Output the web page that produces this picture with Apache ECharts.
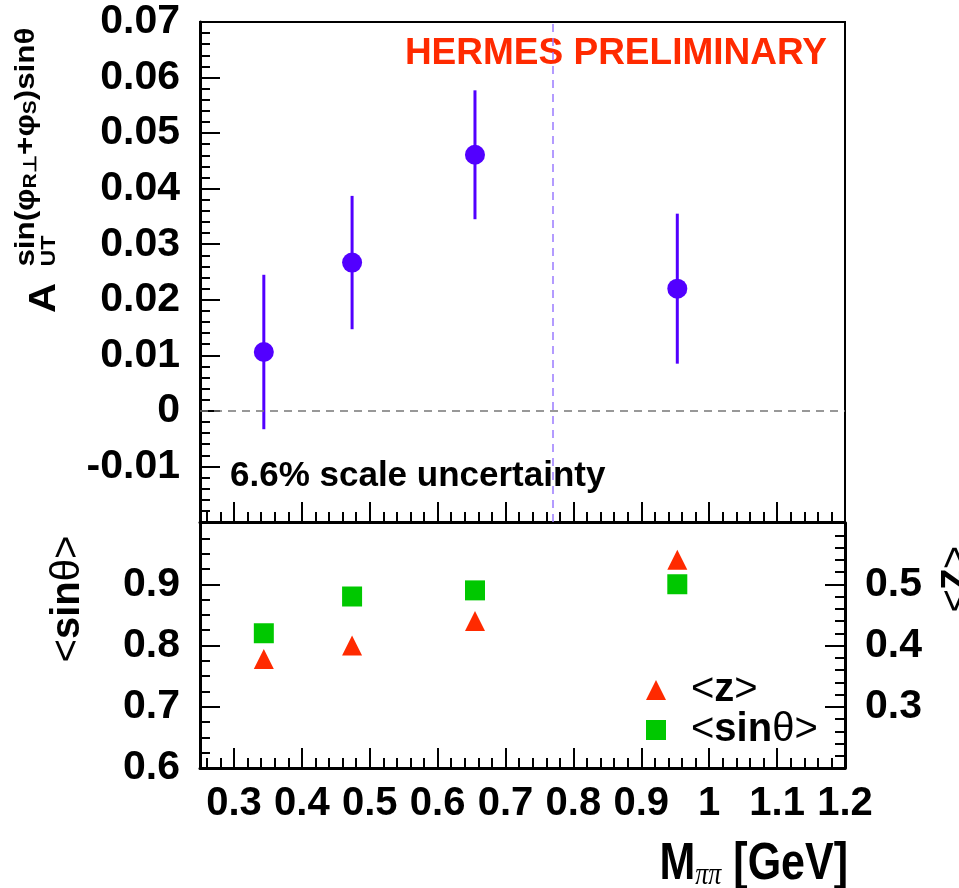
<!DOCTYPE html>
<html>
<head>
<meta charset="utf-8">
<script src="https://cdn.jsdelivr.net/npm/echarts@6/dist/echarts.min.js"></script>
<style>
  html, body { margin: 0; padding: 0; background: #fff; }
  #main { width: 959px; height: 888px; }
</style>
</head>
<body>
<div id="main"></div>
<script>
// data
var massBins = [0.344, 0.474, 0.655, 0.953];
var asymVal = [0.0106, 0.0267, 0.0461, 0.0220];
var asymErr = [0.0139, 0.0120, 0.0116, 0.0135];
var sinTheta = [0.82, 0.88, 0.89, 0.90];
var zMean = [0.378, 0.40, 0.44, 0.54];
var xTickLabels = [0.3, 0.4, 0.5, 0.6, 0.7, 0.8, 0.9, 1.0, 1.1, 1.2];
var rhoMass = 0.77;

var FONT = 'Liberation Sans, Arial, Helvetica, sans-serif';
var purple = '#5200ff';
var red = '#ff2a00';
var green = '#00c800';

// minor ticks on x, 5 divisions per 0.1
var xMinor = [];
for (var m = 0.2; m < 1.2; m += 0.1) {
  for (var k = 1; k < 5; k++) {
    var v = +(m + k * 0.02).toFixed(2);
    if (v > 0.25 && v < 1.2) xMinor.push(v);
  }
}

var chart = echarts.init(document.getElementById('main'));

function xAx(grid, labels) {
  return [{
    type: 'value', gridIndex: grid, min: 0.25, max: 1.2, position: 'bottom',
    axisLine: { show: true, onZero: false, lineStyle: { color: '#000', width: 3 } },
    splitLine: { show: false },
    axisTick: { show: true, inside: true, length: 20, customValues: xTickLabels, lineStyle: { color: '#000', width: 2 } },
    axisLabel: {
      show: labels, customValues: xTickLabels, margin: 16,
      fontFamily: FONT, fontWeight: 'bold', fontSize: 40, color: '#000',
      formatter: function (v) { return v === 1 ? '1' : v.toFixed(1); }
    }
  }, {
    type: 'value', gridIndex: grid, min: 0.25, max: 1.2, position: 'bottom',
    axisLine: { show: false, onZero: false },
    splitLine: { show: false },
    axisLabel: { show: false, customValues: xMinor },
    axisTick: { show: true, inside: true, length: 10, customValues: xMinor, lineStyle: { color: '#000', width: 2 } }
  }];
}

var labelStyle = { fontFamily: FONT, fontWeight: 'bold', fontSize: 41, color: '#000', margin: 20 };
var axLine = { show: true, onZero: false, lineStyle: { color: '#000', width: 3 } };

var option = {
  backgroundColor: '#fff',
  animation: false,
  grid: [
    { left: 200, top: 22, width: 645, height: 500, show: true, borderColor: '#000', borderWidth: 2, backgroundColor: 'transparent' },
    { left: 200, top: 523, width: 645, height: 245, show: true, borderColor: '#000', borderWidth: 2, backgroundColor: 'transparent' }
  ],
  xAxis: xAx(0, false).concat(xAx(1, true)),
  yAxis: [{
    type: 'value', gridIndex: 0, min: -0.02, max: 0.07, interval: 0.01,
    axisLine: axLine, splitLine: { show: false },
    axisTick: { inside: true, length: 20, lineStyle: { color: '#000', width: 2 } },
    minorTick: { show: true, splitNumber: 5, length: 10, lineStyle: { color: '#000', width: 2 } },
    axisLabel: Object.assign({}, labelStyle, {
      showMinLabel: false,
      formatter: function (v) { return Math.abs(v) < 1e-9 ? '0' : v.toFixed(2); }
    })
  }, {
    type: 'value', gridIndex: 1, min: 0.6, max: 1.0, interval: 0.1,
    axisLine: axLine, splitLine: { show: false },
    axisTick: { inside: true, length: 20, lineStyle: { color: '#000', width: 2 } },
    minorTick: { show: true, splitNumber: 4, length: 10, lineStyle: { color: '#000', width: 2 } },
    axisLabel: Object.assign({}, labelStyle, {
      showMaxLabel: false,
      formatter: function (v) { return v.toFixed(1); }
    })
  }, {
    type: 'value', gridIndex: 1, min: 0.2, max: 0.6, interval: 0.1, position: 'right',
    axisLine: axLine, splitLine: { show: false },
    axisTick: { inside: true, length: 20, lineStyle: { color: '#000', width: 2 } },
    minorTick: { show: true, splitNumber: 5, length: 10, lineStyle: { color: '#000', width: 2 } },
    axisLabel: Object.assign({}, labelStyle, {
      showMinLabel: false, showMaxLabel: false,
      formatter: function (v) { return v.toFixed(1); }
    })
  }],
  legend: {
    orient: 'vertical', left: 641, top: 665, itemGap: 0,
    itemWidth: 20, itemHeight: 20,
    data: ['<z>', '<sinθ>'],
    formatter: function (name) {
      return name === '<z>' ? '{r|<}{b|z}{r|>}' : '{r|<}{b|sin}{r|θ>}';
    },
    textStyle: {
      padding: [0, 0, 0, 20], lineHeight: 38,
      rich: {
        r: { fontFamily: FONT, fontSize: 40, color: '#000', lineHeight: 38 },
        b: { fontFamily: FONT, fontWeight: 'bold', fontSize: 40, color: '#000', lineHeight: 38 }
      }
    }
  },
  series: [{
    type: 'custom', name: 'err', xAxisIndex: 0, yAxisIndex: 0, z: 3,
    data: massBins.map(function (x, i) { return [x, asymVal[i] - asymErr[i], asymVal[i] + asymErr[i]]; }),
    encode: { x: 0, y: [1, 2] },
    renderItem: function (params, api) {
      var a = api.coord([api.value(0), api.value(1)]);
      var b = api.coord([api.value(0), api.value(2)]);
      return { type: 'line', shape: { x1: a[0], y1: a[1], x2: b[0], y2: b[1] }, style: { stroke: purple, lineWidth: 3 } };
    },
    silent: true
  }, {
    type: 'scatter', name: 'asym', xAxisIndex: 0, yAxisIndex: 0, z: 4,
    symbol: 'circle', symbolSize: 20,
    itemStyle: { color: purple, opacity: 1 },
    data: massBins.map(function (x, i) { return [x, asymVal[i]]; }),
    markLine: {
      silent: true, symbol: 'none', label: { show: false },
      data: [
        { yAxis: 0, lineStyle: { color: '#777', type: [8, 6], width: 1.5 } },
        { xAxis: rhoMass, lineStyle: { color: '#9a7bff', type: [8, 6], width: 1.5 } }
      ]
    }
  }, {
    type: 'scatter', name: '<sinθ>', xAxisIndex: 2, yAxisIndex: 1,
    symbol: 'rect', symbolSize: 20,
    itemStyle: { color: green, opacity: 1 },
    data: massBins.map(function (x, i) { return [x, sinTheta[i]]; })
  }, {
    type: 'scatter', name: '<z>', xAxisIndex: 2, yAxisIndex: 2,
    symbol: 'triangle', symbolSize: 20,
    itemStyle: { color: red, opacity: 1 },
    data: massBins.map(function (x, i) { return [x, zMean[i]]; })
  }],
  graphic: [
    { type: 'text', left: 230, top: 459, style: { text: '6.6% scale uncertainty', fontFamily: FONT, fontWeight: 'bold', fontSize: 35, fill: '#000' } },
    { type: 'text', right: 959 - 827, top: 35, style: { text: 'HERMES PRELIMINARY', fontFamily: FONT, fontWeight: 'bold', fontSize: 37, fill: red } },
    // y title top panel (stretched a little along its reading direction, like the original)
    { type: 'group', x: 57, y: 313, rotation: Math.PI / 2, scaleX: 1.16, children: [
      { type: 'text', x: 0, y: -12, style: { text: 'A', fontFamily: FONT, fontWeight: 'bold', fontSize: 36, fill: '#000', verticalAlign: 'middle' } },
      { type: 'text', x: 40, y: -8, style: { text: 'UT', fontFamily: FONT, fontWeight: 'bold', fontSize: 20, fill: '#000', verticalAlign: 'middle' } },
      { type: 'text', x: 40, y: -32, style: {
        text: '{n|sin(φ}{s|R⊥}{n|+φ}{s|S}{n|)sinθ}', verticalAlign: 'middle',
        rich: {
          n: { fontFamily: FONT, fontWeight: 'bold', fontSize: 27, fill: '#000', verticalAlign: 'bottom', lineHeight: 30 },
          s: { fontFamily: FONT, fontWeight: 'bold', fontSize: 18, fill: '#000', verticalAlign: 'bottom', lineHeight: 16 }
        }
      } }
    ] },
    // y title bottom-left
    { type: 'text', x: 68, y: 599, rotation: Math.PI / 2, style: {
      text: '{r|<}{b|sin}{r|θ>}', align: 'center', verticalAlign: 'middle',
      rich: {
        r: { fontFamily: FONT, fontSize: 40, fill: '#000' },
        b: { fontFamily: FONT, fontWeight: 'bold', fontSize: 40, fill: '#000' }
      }
    } },
    // y title bottom-right
    { type: 'text', x: 952, y: 579, rotation: -Math.PI / 2, style: {
      text: '{r|<}{b|z}{r|>}', align: 'center', verticalAlign: 'middle',
      rich: {
        r: { fontFamily: FONT, fontSize: 40, fill: '#000' },
        b: { fontFamily: FONT, fontWeight: 'bold', fontSize: 40, fill: '#000' }
      }
    } },
    // x title
    { type: 'text', x: 848, y: 891, scaleY: 1.2, style: {
      text: '{m|M}{s|ππ}{m| [GeV]}', align: 'right', verticalAlign: 'bottom',
      rich: {
        m: { fontFamily: FONT, fontWeight: 'bold', fontSize: 43, fill: '#000', verticalAlign: 'bottom', lineHeight: 48 },
        s: { fontFamily: 'Liberation Serif, DejaVu Serif, serif', fontStyle: 'italic', fontSize: 26, fill: '#000', verticalAlign: 'bottom', lineHeight: 22 }
      }
    } }
  ]
};
chart.setOption(option);
</script>
</body>
</html>
